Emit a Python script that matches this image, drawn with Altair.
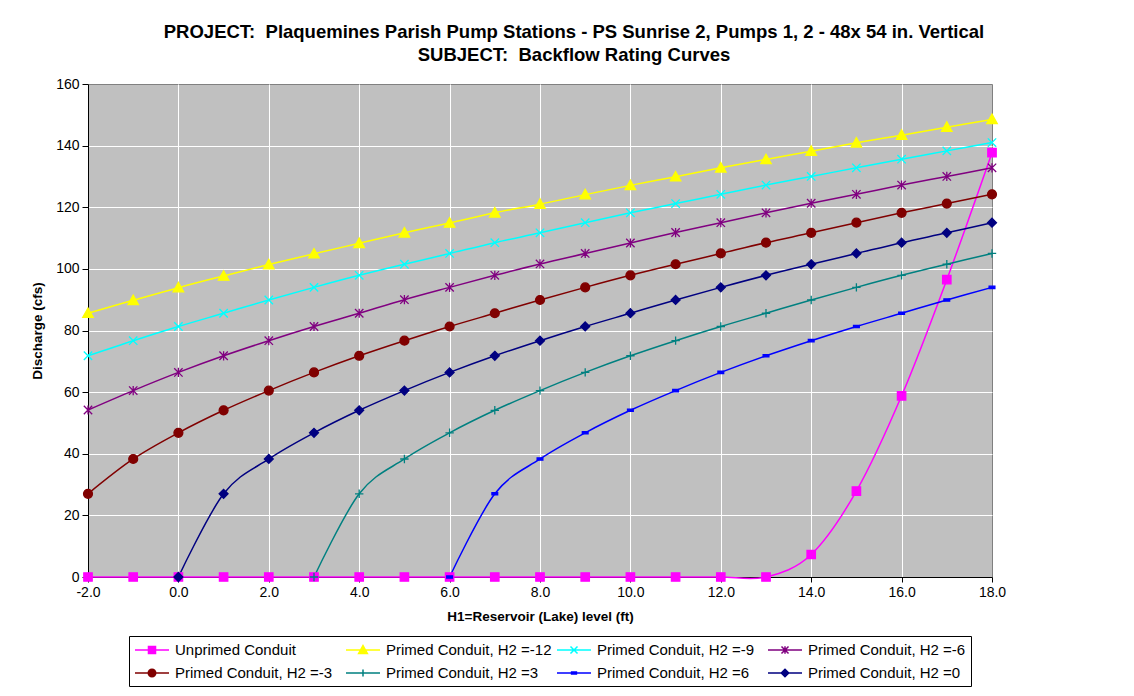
import altair as alt
import pandas as pd

# ---------------- data ----------------
series_names = [
    "Unprimed Conduit",
    "Primed Conduit, H2 =-12",
    "Primed Conduit, H2 =-9",
    "Primed Conduit, H2 =-6",
    "Primed Conduit, H2 =-3",
    "Primed Conduit, H2 =3",
    "Primed Conduit, H2 =6",
    "Primed Conduit, H2 =0",
]
series_colors = ["#FF00FF", "#FFFF00", "#00FFFF", "#800080",
                 "#800000", "#008080", "#0000FF", "#000080"]

h1_full = [-2, -1, 0, 1, 2, 3, 4, 5, 6, 7, 8, 9, 10, 11, 12, 13, 14, 15, 16, 17, 18]
h1_from0 = [0, 1, 2, 3, 4, 5, 6, 7, 8, 9, 10, 11, 12, 13, 14, 15, 16, 17, 18]
h1_from3 = [3, 4, 5, 6, 7, 8, 9, 10, 11, 12, 13, 14, 15, 16, 17, 18]
h1_from6 = [6, 7, 8, 9, 10, 11, 12, 13, 14, 15, 16, 17, 18]

q_unprimed = [0, 0, 0, 0, 0, 0, 0, 0, 0, 0, 0, 0, 0, 0, 0, 0, 7.3, 27.9, 58.8, 96.5, 137.7]
q_h2_m12 = [85.6, 89.8, 93.9, 97.7, 101.4, 104.9, 108.3, 111.7, 114.9, 118.2, 121.0,
            124.1, 127.1, 129.9, 132.8, 135.5, 138.2, 140.9, 143.4, 146.0, 148.5]
q_h2_m9 = [71.8, 76.7, 81.3, 85.6, 89.9, 94.0, 97.9, 101.5, 105.0, 108.5, 111.7,
           115.0, 118.2, 121.2, 124.2, 127.2, 130.0, 132.8, 135.6, 138.3, 141.0]
q_h2_m6 = [54.2, 60.5, 66.4, 71.8, 76.7, 81.3, 85.6, 90.0, 94.0, 97.9, 101.6,
           105.0, 108.4, 111.8, 115.0, 118.2, 121.3, 124.2, 127.2, 130.0, 132.8]
q_h2_m3 = [27.0, 38.3, 46.8, 54.1, 60.5, 66.4, 71.8, 76.7, 81.3, 85.6, 89.9,
           94.0, 97.9, 101.5, 105.0, 108.5, 111.7, 115.0, 118.2, 121.2, 124.2]
q_h2_3 = [0, 27.0, 38.3, 46.8, 54.1, 60.5, 66.4, 71.8, 76.7, 81.3, 85.6,
          89.9, 94.0, 97.9, 101.5, 105.0]
q_h2_6 = [0, 27.0, 38.3, 46.8, 54.1, 60.5, 66.4, 71.8, 76.7, 81.3, 85.6, 89.9, 94.0]
q_h2_0 = [0, 27.0, 38.3, 46.8, 54.1, 60.5, 66.4, 71.8, 76.7, 81.3, 85.6,
          89.9, 94.0, 97.9, 101.5, 105.0, 108.5, 111.7, 115.0]

series_x = [h1_full, h1_full, h1_full, h1_full, h1_full, h1_from3, h1_from6, h1_from0]
series_q = [q_unprimed, q_h2_m12, q_h2_m9, q_h2_m6, q_h2_m3, q_h2_3, q_h2_6, q_h2_0]

x_ticks = [-2, 0, 2, 4, 6, 8, 10, 12, 14, 16, 18]
y_ticks = [0, 20, 40, 60, 80, 100, 120, 140, 160]

title_lines = [
    "PROJECT:\u00a0 Plaquemines Parish Pump Stations - PS Sunrise 2, Pumps 1, 2 - 48x 54 in. Vertical",
    "SUBJECT:\u00a0 Backflow Rating Curves",
]

rows = []
for name, xs, qs in zip(series_names, series_x, series_q):
    for xv, qv in zip(xs, qs):
        rows.append({"series": name, "h1": xv, "q": qv})
df = pd.DataFrame(rows)

# ---------------- marker shapes ----------------
def f(v):
    return f"{v:.3f}"

def square(r):
    return f"M{f(-r)},{f(-r)}L{f(r)},{f(-r)}L{f(r)},{f(r)}L{f(-r)},{f(r)}Z"

def triangle(r):
    return f"M0,{f(-r)}L{f(r)},{f(0.8*r)}L{f(-r)},{f(0.8*r)}Z"

def xmark(r):
    return f"M{f(-r)},{f(-r)}L{f(r)},{f(r)}M{f(-r)},{f(r)}L{f(r)},{f(-r)}"

def asterisk(r):
    return xmark(r) + f"M0,{f(-1.1*r)}L0,{f(1.1*r)}"

def circle(r):
    return (f"M{f(-r)},0A{f(r)},{f(r)},0,1,0,{f(r)},0"
            f"A{f(r)},{f(r)},0,1,0,{f(-r)},0Z")

def plus(r):
    return f"M{f(-r)},0L{f(r)},0M0,{f(-r)}L0,{f(r)}"

def dash(r):
    return f"M{f(-r)},{f(-0.4*r)}L{f(r)},{f(-0.4*r)}L{f(r)},{f(0.4*r)}L{f(-r)},{f(0.4*r)}Z"

def diamond(r):
    return f"M0,{f(-r)}L{f(r)},0L0,{f(r)}L{f(-r)},0Z"

marker_fns = [square, triangle, xmark, asterisk, circle, plus, dash, diamond]
marker_r = [0.8, 1.0, 0.8, 0.8, 0.85, 0.8, 0.55, 0.85]
marker_paths = [fn(r) for fn, r in zip(marker_fns, marker_r)]
# legend symbol: 16px box (scale 8), line of +-2.125 units (34 px), small marker
legend_paths = ["M-2.125,0L2.125,0" + fn(r * 0.55) for fn, r in zip(marker_fns, marker_r)]

FONT = "Liberation Sans"

xscale = alt.Scale(domain=[-2, 18], nice=False, zero=False)
yscale = alt.Scale(domain=[0, 160], nice=False)

xaxis = alt.Axis(
    values=x_ticks, format=".1f", title="H1=Reservoir (Lake) level (ft)",
    labelExpr="replace(datum.label, '\u2212', '-')",
    labelFlush=False,
    grid=True, gridColor="#FFFFFF", gridWidth=1,
    gridOpacity={"condition": {"test": "datum.value >= 18", "value": 0}, "value": 1},
    domainColor="#000000", tickColor="#000000", tickSize=5,
    labelFont=FONT, labelFontSize=14, labelColor="#000000", labelPadding=3,
    titleFont=FONT, titleFontSize=13.5, titleFontWeight="bold", titleColor="#000000",
    titlePadding=10,
)
yaxis = alt.Axis(
    values=y_ticks, format="d", title="Discharge (cfs)",
    labelFlush=False,
    grid=True, gridColor="#FFFFFF", gridWidth=1,
    gridOpacity={"condition": {"test": "datum.value >= 160", "value": 0}, "value": 1},
    domainColor="#000000", tickColor="#000000", tickSize=6,
    labelFont=FONT, labelFontSize=14, labelColor="#000000", labelPadding=3,
    titleFont=FONT, titleFontSize=13.5, titleFontWeight="bold", titleColor="#000000",
    titlePadding=11,
)

color_scale = alt.Scale(domain=series_names, range=series_colors)

base = alt.Chart(df)

lines = base.mark_line(interpolate="cardinal", strokeWidth=1.5).encode(
    x=alt.X("h1:Q", scale=xscale, axis=xaxis),
    y=alt.Y("q:Q", scale=yscale, axis=yaxis),
    color=alt.Color("series:N", scale=color_scale, legend=None),
)

points = base.mark_point(filled=True, size=110, strokeWidth=1.3, opacity=1).encode(
    x=alt.X("h1:Q", scale=xscale),
    y=alt.Y("q:Q", scale=yscale),
    color=alt.Color("series:N", scale=color_scale, legend=None),
    stroke=alt.Stroke("series:N", scale=color_scale, legend=None),
    shape=alt.Shape("series:N", scale=alt.Scale(domain=series_names, range=marker_paths), legend=None),
)

legend_def = alt.Legend(
    title=None, orient="none", legendX=41, legendY=552,
    direction="horizontal", columns=4, gridAlign="all",
    symbolSize=256, symbolStrokeWidth=1.5, symbolOpacity=1,
    symbolOffset=9,
    labelFont=FONT, labelFontSize=15, labelColor="#000000", labelLimit=400,
    labelOffset=14, columnPadding=2, rowPadding=6,
    padding=5, strokeColor="#000000", fillColor="#FFFFFF",
)

legend_layer = base.transform_filter("false").mark_point(
    filled=True, size=256, strokeWidth=1.5, opacity=1
).encode(
    x=alt.X("h1:Q", scale=xscale),
    y=alt.Y("q:Q", scale=yscale),
    color=alt.Color("series:N", scale=color_scale, legend=legend_def),
    stroke=alt.Stroke("series:N", scale=color_scale, legend=legend_def),
    shape=alt.Shape("series:N", scale=alt.Scale(domain=series_names, range=legend_paths), legend=legend_def),
)

chart = alt.layer(lines, points, legend_layer).resolve_scale(
    color="independent", stroke="independent", shape="independent"
).properties(
    width=904, height=493,
    autosize=alt.AutoSizeParams(type="none"),
    padding={"left": 80, "top": 76, "right": 126, "bottom": 112},
    title=alt.TitleParams(
        text=title_lines, font=FONT, fontSize=18.5, fontWeight="bold", color="#000000",
        anchor="middle", dx=34, offset=13, lineHeight=23,
    ),
    background="#FFFFFF",
).configure_view(
    fill="#C0C0C0", stroke="#808080", strokeWidth=1
)

chart.save("out.html", embed_options={"renderer": "svg", "actions": False})
